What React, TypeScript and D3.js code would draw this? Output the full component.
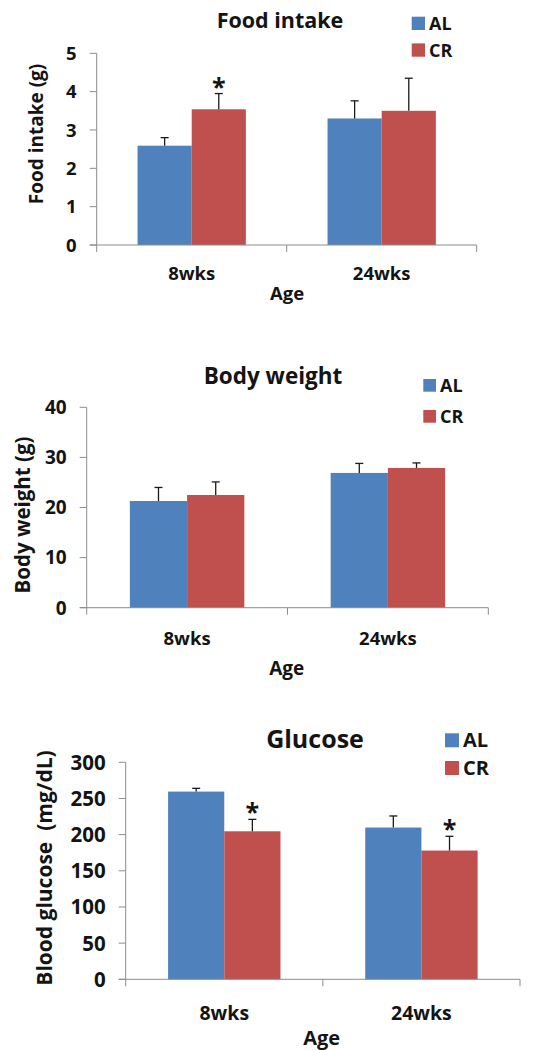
import React from 'react';
import * as d3 from 'd3';

// shared
const categories = ['8wks', '24wks'];
const groups = ['AL', 'CR'];
const colors = ['#4F81BD', '#C0504D'];

// food intake (g)
const foodAL = [2.59, 3.3];
const foodCR = [3.54, 3.5];
const foodErrAL = [0.21, 0.46];
const foodErrCR = [0.41, 0.85];
const foodStarCR = [true, false];
const foodTicks = [0, 1, 2, 3, 4, 5];

// body weight (g)
const bwAL = [21.3, 26.9];
const bwCR = [22.5, 27.9];
const bwErrAL = [2.7, 1.9];
const bwErrCR = [2.6, 1.0];
const bwStarCR = [false, false];
const bwTicks = [0, 10, 20, 30, 40];

// blood glucose (mg/dL)
const gluAL = [259.5, 209.8];
const gluCR = [204.6, 178];
const gluErrAL = [4.5, 16];
const gluErrCR = [16.5, 19.7];
const gluStarCR = [true, true];
const gluTicks = [0, 50, 100, 150, 200, 250, 300];

const FONT = '"Open Sans", "Noto Sans", sans-serif';

type PanelProps = {
  title: string;
  yLabel: string;
  al: number[];
  cr: number[];
  errAl: number[];
  errCr: number[];
  stars: boolean[];
  ticks: number[];
  // layout
  left: number;
  right: number;
  yTop: number;
  yBot: number;
  titleX: number;
  titleY: number;
  titleSize: number;
  legX: number;
  legY: number;
  legBox: number;
  legGap: number;
  legSize: number;
  tickSize: number;
  xLabY: number;
  xLabSize: number;
  ageX: number;
  ageY: number;
  ageSize: number;
  yLabX: number;
  yLabY: number;
  yLabSize: number;
  starDy: number;
};

const Panel = (p: PanelProps) => {
  const yMax = p.ticks[p.ticks.length - 1];
  const y = d3.scaleLinear().domain([0, yMax]).range([p.yBot, p.yTop]);
  const x0 = d3
    .scaleBand()
    .domain(categories)
    .range([p.left, p.right])
    .paddingInner(0.43)
    .paddingOuter(0.215);
  const x1 = d3.scaleBand().domain(groups).range([0, x0.bandwidth()]);
  const series = [p.al, p.cr];
  const errs = [p.errAl, p.errCr];
  const step = x0.step();
  const catTicks = d3.range(0, categories.length + 1).map(i => p.left + i * step);
  const axisColor = '#8c8c8c';
  const ink = '#141414';

  return (
    <g>
      <text x={p.titleX} y={p.titleY} textAnchor="middle" fontFamily={FONT} fontWeight="bold" fontSize={p.titleSize} fill={ink}>
        {p.title}
      </text>
      {/* legend */}
      {groups.map((g, i) => (
        <g key={g}>
          <rect x={p.legX} y={p.legY + i * p.legGap} width={p.legBox} height={p.legBox} fill={colors[i]} />
          <text x={p.legX + p.legBox + 4} y={p.legY + i * p.legGap + p.legBox} fontFamily={FONT} fontWeight="bold" fontSize={p.legSize} fill={ink}>
            {g}
          </text>
        </g>
      ))}
      {/* bars */}
      {series.map((vals, si) =>
        vals.map((v, ci) => {
          const bx = (x0(categories[ci]) as number) + (x1(groups[si]) as number);
          return (
            <rect key={`b${si}${ci}`} x={bx} y={y(v)} width={x1.bandwidth()} height={y(0) - y(v)} fill={colors[si]} />
          );
        })
      )}
      {/* error bars, upper half only */}
      {series.map((vals, si) =>
        vals.map((v, ci) => {
          const cx = (x0(categories[ci]) as number) + (x1(groups[si]) as number) + x1.bandwidth() / 2;
          const top = y(v + errs[si][ci]);
          return (
            <g key={`e${si}${ci}`} stroke="#1a1a1a" strokeWidth={1.3}>
              <line x1={cx} x2={cx} y1={y(v)} y2={top} />
              <line x1={cx - 4} x2={cx + 4} y1={top} y2={top} />
            </g>
          );
        })
      )}
      {/* significance stars on CR */}
      {p.stars.map((s, ci) => {
        if (!s) return null;
        const cx = (x0(categories[ci]) as number) + (x1('CR') as number) + x1.bandwidth() / 2;
        const top = y(p.cr[ci] + p.errCr[ci]);
        return (
          <text key={`s${ci}`} x={cx} y={top + p.starDy} textAnchor="middle" fontFamily={FONT} fontWeight="bold" fontSize={25} fill={ink}>
            *
          </text>
        );
      })}
      {/* y axis */}
      <line x1={p.left} x2={p.left} y1={p.yTop} y2={p.yBot} stroke={axisColor} strokeWidth={1} />
      {p.ticks.map(t => (
        <g key={`t${t}`}>
          <line x1={p.left - 7} x2={p.left} y1={y(t)} y2={y(t)} stroke={axisColor} strokeWidth={1} />
          <text x={p.left - 20} y={y(t)} dy="0.36em" textAnchor="end" fontFamily={FONT} fontWeight="bold" fontSize={p.tickSize} fill={ink}>
            {t}
          </text>
        </g>
      ))}
      {/* x axis */}
      <line x1={p.left - 7} x2={p.right} y1={p.yBot} y2={p.yBot} stroke={axisColor} strokeWidth={1} />
      {catTicks.map((tx, i) => (
        <line key={`c${i}`} x1={tx} x2={tx} y1={p.yBot} y2={p.yBot + 7} stroke={axisColor} strokeWidth={1} />
      ))}
      {categories.map(c => (
        <text key={c} x={(x0(c) as number) + x0.bandwidth() / 2} y={p.xLabY} textAnchor="middle" fontFamily={FONT} fontWeight="bold" fontSize={p.xLabSize} fill={ink}>
          {c}
        </text>
      ))}
      <text x={p.ageX} y={p.ageY} textAnchor="middle" fontFamily={FONT} fontWeight="bold" fontSize={p.ageSize} fill={ink}>
        Age
      </text>
      <text
        transform={`translate(${p.yLabX},${p.yLabY}) rotate(-90)`}
        textAnchor="middle"
        dy="0.35em"
        fontFamily={FONT}
        fontWeight="bold"
        fontSize={p.yLabSize}
        fill={ink}
        style={{ whiteSpace: 'pre' }}
      >
        {p.yLabel}
      </text>
    </g>
  );
};

export default function App() {
  return (
    <svg width={556} height={1050} style={{ position: 'absolute', left: 0, top: 0, background: '#fff' }}>
      <Panel
        title="Food intake"
        yLabel="Food intake (g)"
        al={foodAL}
        cr={foodCR}
        errAl={foodErrAL}
        errCr={foodErrCR}
        stars={foodStarCR}
        ticks={foodTicks}
        left={96.7}
        right={476.7}
        yTop={53.3}
        yBot={245}
        titleX={280}
        titleY={28}
        titleSize={21.5}
        legX={411.7}
        legY={16.7}
        legBox={13.3}
        legGap={26.7}
        legSize={18}
        tickSize={18.5}
        xLabY={280}
        xLabSize={18.5}
        ageX={287}
        ageY={300}
        ageSize={18.5}
        yLabX={36.7}
        yLabY={134}
        yLabSize={19}
        starDy={2}
      />
      <Panel
        title="Body weight"
        yLabel="Body weight (g)"
        al={bwAL}
        cr={bwCR}
        errAl={bwErrAL}
        errCr={bwErrCR}
        stars={bwStarCR}
        ticks={bwTicks}
        left={86.7}
        right={488.3}
        yTop={407.3}
        yBot={607.7}
        titleX={273}
        titleY={384}
        titleSize={22.5}
        legX={423.3}
        legY={379}
        legBox={12.7}
        legGap={31}
        legSize={18}
        tickSize={19}
        xLabY={645}
        xLabSize={18.5}
        ageX={286.7}
        ageY={675}
        ageSize={19}
        yLabX={23}
        yLabY={515}
        yLabSize={20.5}
        starDy={2}
      />
      <Panel
        title="Glucose"
        yLabel="Blood glucose  (mg/dL)"
        al={gluAL}
        cr={gluCR}
        errAl={gluErrAL}
        errCr={gluErrCR}
        stars={gluStarCR}
        ticks={gluTicks}
        left={125.7}
        right={520}
        yTop={762.3}
        yBot={979.3}
        titleX={315}
        titleY={748.3}
        titleSize={25}
        legX={445}
        legY={733.3}
        legBox={14}
        legGap={27.7}
        legSize={20}
        tickSize={20.5}
        xLabY={1020}
        xLabSize={19.5}
        ageX={321.7}
        ageY={1045}
        ageSize={20}
        yLabX={45}
        yLabY={868}
        yLabSize={21}
        starDy={2}
      />
    </svg>
  );
}
